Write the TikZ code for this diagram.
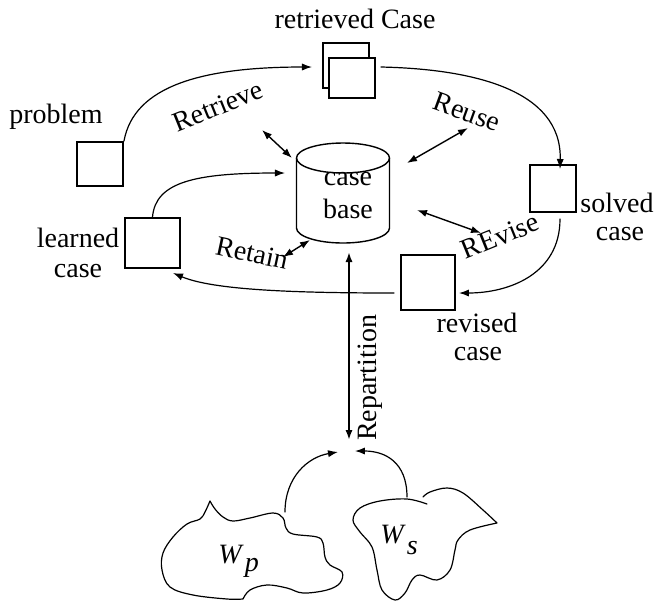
\documentclass[tikz,border=0pt]{standalone}
\usepackage{fontspec}
\setmainfont{Liberation Serif}
\usetikzlibrary{arrows.meta}
\tikzset{
  cbr cycle/.style={
    x=0.5pt,
    y=-0.5pt,
    line cap=round,
    line join=round
  },
  cbr text/.style={
    font=\fontsize{14}{15}\selectfont,
    inner sep=0pt
  },
  cbr box/.style={
    draw,
    fill=white,
    line width=1pt,
    line join=miter,
    inner sep=0pt,
    minimum width=23pt,
    minimum height=22pt
  },
  cbr flow/.style={
    line width=0.6pt,
    -{Latex[length=5pt,width=3.6pt]}
  },
  cbr link/.style={
    line width=0.7pt,
    {Latex[length=5pt,width=3.6pt]}-{Latex[length=5pt,width=3.6pt]}
  },
  cbr world/.style={
    line width=0.6pt
  }
}

\begin{document}
\begin{tikzpicture}[cbr cycle]
  \useasboundingbox (0,0) rectangle (661,602);

  \node[cbr box] (problem) at (100,164) {};
  \node[cbr box, minimum height=22.5pt] (retrieved back) at (346,65.5) {};
  \node[cbr box, minimum height=20pt] (retrieved) at (352,78) {};
  \node[cbr box, minimum height=23.5pt] (solved) at (553,188.5) {};
  \node[cbr box, minimum width=27pt, minimum height=27.5pt] (revised) at (428,282) {};
  \node[cbr box, minimum width=27.5pt, minimum height=25pt] (learned) at (152.5,243) {};

  \node[cbr text, anchor=base] (retrieved label) at (355,28) {retrieved Case};
  \node[cbr text, anchor=base] (problem label) at (56,123) {problem};
  \node[cbr text, anchor=base] (learned label) at (78,247) {learned};
  \node[cbr text, anchor=base] (learned label2) at (78,277) {case};
  \node[cbr text, anchor=base] (solved label) at (617,212) {solved};
  \node[cbr text, anchor=base] (solved label2) at (620,240) {case};
  \node[cbr text, anchor=base] (revised label) at (477,332) {revised};
  \node[cbr text, anchor=base] (revised label2) at (478,360) {case};

  \draw[line width=0.7pt] (296.5,158) -- (296.5,228)
    arc[start angle=180, end angle=0, x radius=46.5, y radius=15] -- (389.5,158);
  \draw[line width=0.7pt] (343,158) ellipse [x radius=46.5, y radius=15];
  \node[cbr text, anchor=base] (casebase) at (348,185) {case};
  \node[cbr text, anchor=base] (casebase2) at (348,218) {base};

  \node[cbr text, rotate=22] (retrieve) at (218,106) {Retrieve};
  \node[cbr text, rotate=-20] (reuse) at (467,112) {Reuse};
  \node[cbr text, rotate=22] (revise) at (500,236) {REvise};
  \node[cbr text, rotate=-12] (retain) at (252,253) {Retain};
  \node[cbr text, rotate=90] (repartition) at (370,378) {Repartition};

  \coordinate (retrieve a) at (262,130);
  \coordinate (retrieve b) at (292,158);
  \coordinate (reuse a) at (407,163);
  \coordinate (reuse b) at (468,128);
  \coordinate (revise a) at (417,210);
  \coordinate (revise b) at (481,233);
  \coordinate (retain a) at (283,257);
  \coordinate (retain b) at (310,240);
  \coordinate (base in) at (285,173);
  \coordinate (base out) at (349,252);
  \coordinate (worlds) at (349,440);
  \coordinate (wp top) at (285,512);
  \coordinate (ws top) at (407,497);
  \coordinate (wp in) at (338,452);
  \coordinate (ws in) at (355,451);

  \draw[cbr flow] (problem.north east) .. controls +(10,-55) and +(-110,0) .. ([xshift=-5pt,yshift=-0.75pt]retrieved back.west);
  \draw[cbr flow] ([xshift=2.5pt,yshift=5.5pt]retrieved.east) .. controls +(90,2) and +(2,-80) .. ([xshift=3.5pt,yshift=-2.5pt]solved.north);
  \draw[cbr flow] ([xshift=3.5pt,yshift=-3pt]solved.south) .. controls +(0,55) and +(50,0) .. ([xshift=1.5pt,yshift=-5.5pt]revised.east);
  \draw[cbr flow] ([xshift=-3pt,yshift=-5.5pt]revised.west) .. controls +(-100,0) and +(40,17) .. ([xshift=-4pt,yshift=-2pt]learned.south east);
  \draw[cbr flow] (learned.north) .. controls +(3,-35) and +(-90,0) .. (base in);

  \draw[cbr link] (retrieve a) -- (retrieve b);
  \draw[cbr link] (reuse a) -- (reuse b);
  \draw[cbr link] (revise a) -- (revise b);
  \draw[cbr link] (retain a) -- (retain b);
  \draw[cbr link, line width=1pt] (base out) -- (worlds);

  \draw[cbr flow] (wp top) .. controls +(0,-35) and +(-30,5) .. (wp in);
  \draw[cbr flow] (ws top) .. controls +(0,-35) and +(30,0) .. (ws in);

  \draw[cbr world] plot[smooth, tension=0.6] coordinates {
      (243,599) (227,599) (193,595) (170,587) (162,570) (163,553) (173,537)
      (187,524) (200,519) (205,512) (210,501)}
    -- plot[smooth, tension=0.6] coordinates {
      (210,501) (215,509) (223,517) (233,521) (250,518) (273,513) (283,518)
      (286,528) (293,534) (317,537) (323,543) (325,557) (330,565) (342,572)
      (340,583) (327,590) (303,593) (287,588) (267,585) (250,590) (243,599)};
  \draw[cbr world] plot[smooth, tension=0.6] coordinates {
      (427,504) (407,499) (380,501) (360,508) (353,520) (360,532) (372,547)
      (377,570) (382,590) (395,600) (405,593) (412,580) (420,575) (437,580)
      (450,570) (455,550) (458,540) (470,530) (497,523)}
    -- plot[smooth, tension=0.6] coordinates {
      (497,523) (483,510) (463,493) (447,488) (430,492) (423,497)};

  \node[cbr text, anchor=base west] (wp) at (218,563) {\textit{W}\kern0.5pt\raisebox{-4pt}{\textit{p}}};
  \node[cbr text, anchor=base west] (ws) at (380,543) {\textit{W}\kern0.5pt\raisebox{-5.5pt}{\textit{s}}};
\end{tikzpicture}
\end{document}
